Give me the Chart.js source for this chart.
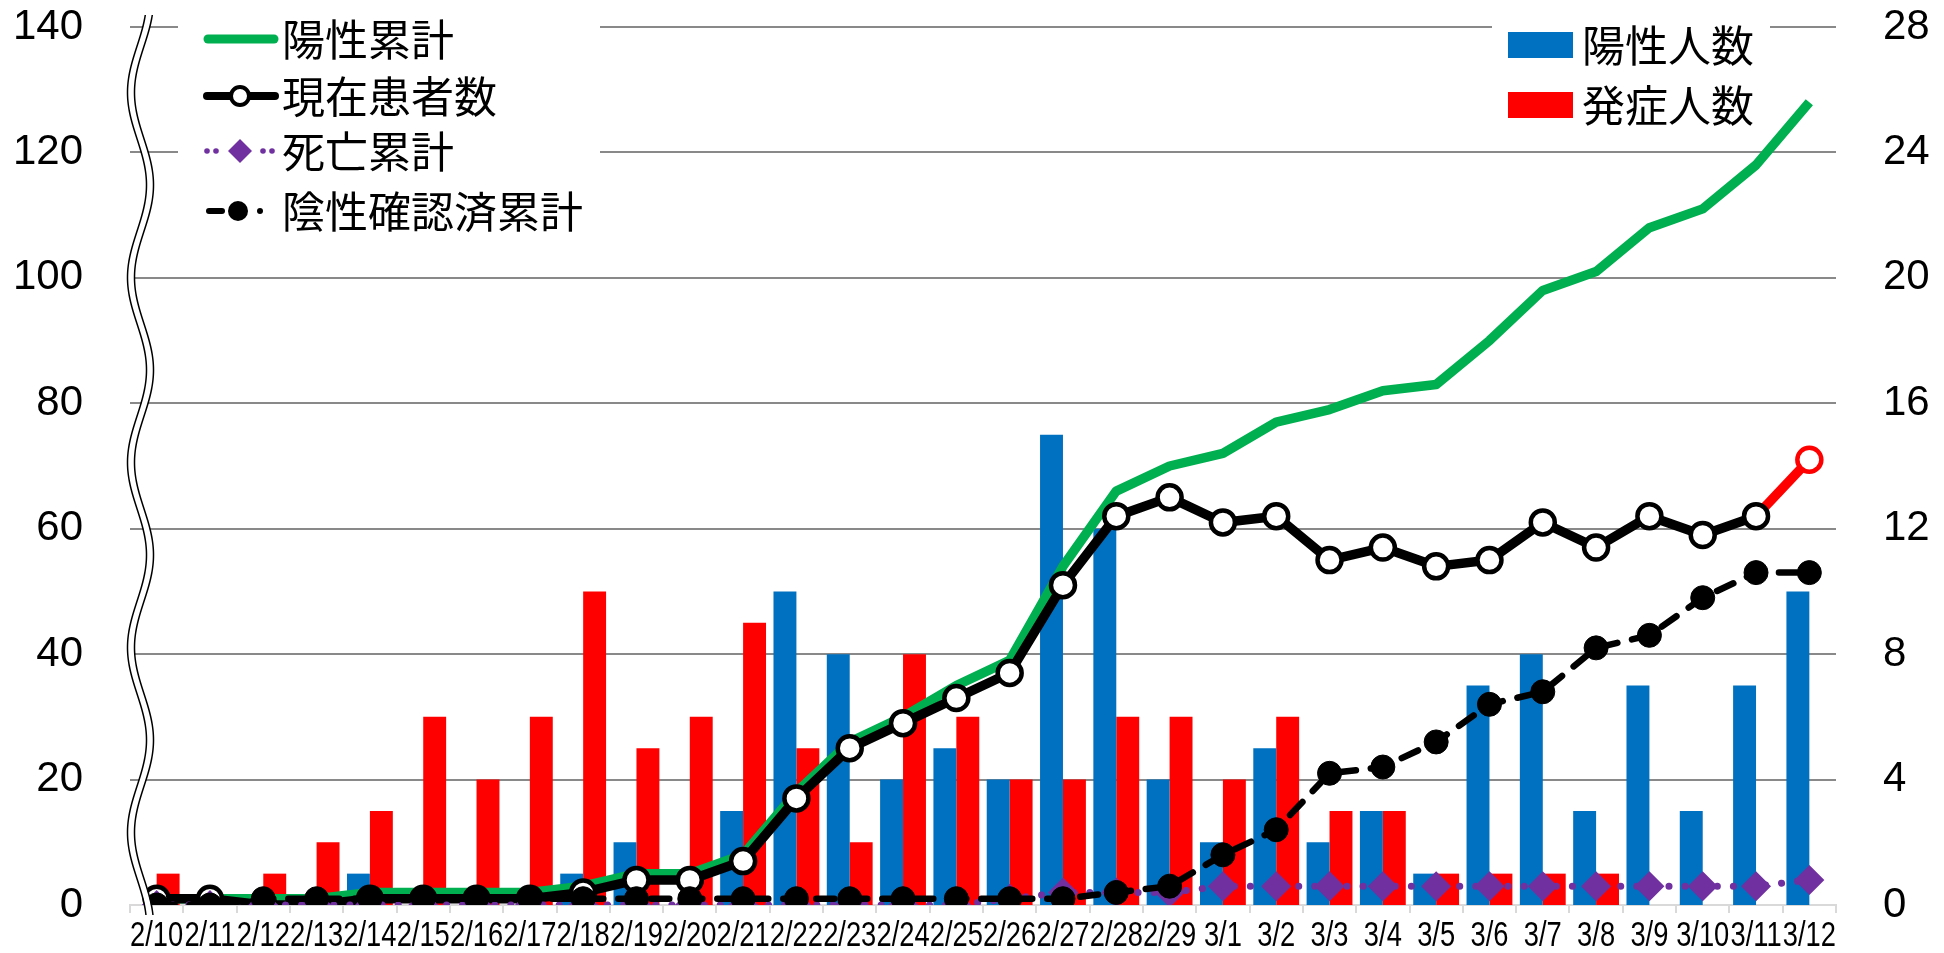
<!DOCTYPE html>
<html><head><meta charset="utf-8">
<script src="https://cdn.jsdelivr.net/npm/chart.js@4.4.0/dist/chart.umd.min.js"></script>
<style>html,body{margin:0;padding:0;background:#fff;overflow:hidden}#wrap{width:1944px;height:953px;position:relative}</style>
</head><body><div id="wrap"><canvas id="c" width="1944" height="953"></canvas></div>
<script>
// ---- data ----
const labels = ['2/10','2/11','2/12','2/13','2/14','2/15','2/16','2/17','2/18','2/19','2/20','2/21','2/22','2/23','2/24','2/25','2/26','2/27','2/28','2/29','3/1','3/2','3/3','3/4','3/5','3/6','3/7','3/8','3/9','3/10','3/11','3/12'];
// bars (right axis)
const positiveDaily = [0,0,0,0,1,0,0,0,1,2,0,3,10,8,4,5,4,15,12,4, 2,5,2,3,1,7,8,3,7,3,7,10];
const onsetDaily    = [1,0,1,2,3,6,4,6,10,5,6,9,5,2,8,6,4,4,6,6, 4,6,3,3,1,1,1,1,0,0,0,0];
// lines (left axis)
const positiveCumulative = [1,1,1,1,2,2,2,2,3,5,5,8,18,26,30,35,39,54,66,70, 72,77,79,82,83,90,98,101,108,111,118,128];
const currentPatients    = [1,1,0,0,1,1,1,1,2,4,4,7,17,25,29,33,37,51,62,65, 61,62,55,57,54,55,61,57,62,59,62,71];
const deathsCumulative   = [0,0,0,0,0,0,0,0,0,0,0,0,0,0,0,0,1,2,2,2, 3,3,3,3,3,3,3,3,3,3,3,4];
const negativeCumulative = [0,0,1,1,1,1,1,1,1,1,1,1,1,1,1,1,1,1,2,3, 8,12,21,22,26,32,34,41,43,49,53,53];
const leftTicks = {min:0, max:140, step:20};
const rightTicks = {min:0, max:28, step:4};

const lastIdx = currentPatients.length - 1;
const numFont = {family:"'Liberation Sans', Arial, sans-serif", size:42};
const xLabelFont = "35px 'Liberation Sans', Arial, sans-serif";
const jpFont = "43px 'Noto Sans CJK JP', sans-serif";

function drawDiamond(ctx,x,y,r,color){ctx.beginPath();ctx.moveTo(x,y-r);ctx.lineTo(x+r,y);ctx.lineTo(x,y+r);ctx.lineTo(x-r,y);ctx.closePath();ctx.fillStyle=color;ctx.fill();}
function drawCircle(ctx,x,y,r,fill,stroke,lw){ctx.beginPath();ctx.arc(x,y,r,0,Math.PI*2);ctx.fillStyle=fill;ctx.fill();if(lw){ctx.lineWidth=lw;ctx.strokeStyle=stroke;ctx.stroke();}}

const overlay = {
  id:'overlay',
  afterDraw(chart){
    const ctx = chart.ctx;
    ctx.save();
    // x-axis category labels (condensed, as in the original)
    const xs = chart.scales.x;
    ctx.font = xLabelFont; ctx.fillStyle='#000'; ctx.textAlign='center'; ctx.textBaseline='alphabetic';
    xs.ticks.forEach((t,i)=>{
      const x = xs.getPixelForTick(i);
      ctx.save(); ctx.translate(x, 946); ctx.scale(0.78,1);
      ctx.fillText(xs.getLabelForValue(t.value),0,0);
      ctx.restore();
    });

    // break mark (double wavy line) near left axis
    const pts=[];
    for(let y=15;y<=915;y+=2){pts.push([140.5+9.5*Math.cos(2*Math.PI*(y-740)/185),y]);}
    const path=(dx)=>{ctx.beginPath();pts.forEach((p,i)=>{i?ctx.lineTo(p[0]+dx,p[1]):ctx.moveTo(p[0]+dx,p[1]);});};
    ctx.lineCap='butt';
    path(0);ctx.strokeStyle='#fff';ctx.lineWidth=6;ctx.stroke();
    ctx.strokeStyle='#000';ctx.lineWidth=1.5;
    path(-3.5);ctx.stroke();path(3.5);ctx.stroke();

    const ds = chart.data.datasets;
    // legend 1 (lines)
    ctx.fillStyle='#fff';ctx.fillRect(178,2,422,243);
    const rows=[39,96,151,211];
    ctx.font=jpFont;ctx.textBaseline='middle';ctx.textAlign='left';
    ctx.lineCap='round';
    // 陽性累計
    ctx.beginPath();ctx.moveTo(208,rows[0]);ctx.lineTo(274,rows[0]);ctx.strokeStyle=ds[0].borderColor;ctx.lineWidth=9;ctx.stroke();
    // 現在患者数
    ctx.beginPath();ctx.moveTo(207,rows[1]);ctx.lineTo(275,rows[1]);ctx.strokeStyle='#000';ctx.lineWidth=8;ctx.stroke();
    drawCircle(ctx,240,rows[1],9,'#fff','#000',4);
    // 死亡累計
    ctx.fillStyle=ds[2].borderColor;
    [207,216,263,272].forEach(x=>{ctx.beginPath();ctx.arc(x,rows[2],2.8,0,Math.PI*2);ctx.fill();});
    drawDiamond(ctx,240,rows[2],12,ds[2].borderColor);
    // 陰性確認済累計
    ctx.beginPath();ctx.moveTo(209,rows[3]);ctx.lineTo(222,rows[3]);ctx.strokeStyle='#000';ctx.lineWidth=6;ctx.stroke();
    drawCircle(ctx,238,rows[3],10,'#000');
    ctx.beginPath();ctx.arc(260,rows[3],3,0,Math.PI*2);ctx.fillStyle='#000';ctx.fill();
    ctx.fillStyle='#000';
    [0,1,2,3].forEach(i=>ctx.fillText(ds[i].label,282,rows[i]+1));

    // legend 2 (bars)
    ctx.fillStyle='#fff';ctx.fillRect(1492,8,278,129);
    const rows2=[45,105];
    [4,5].forEach((di,k)=>{
      ctx.fillStyle=ds[di].backgroundColor;ctx.fillRect(1508,rows2[k]-13,65,26);
      ctx.fillStyle='#000';ctx.fillText(ds[di].label,1582,rows2[k]+1);
    });
    ctx.restore();
  }
};

new Chart(document.getElementById('c'),{
  data:{
    labels,
    datasets:[
      {type:'line',label:'陽性累計',data:positiveCumulative,yAxisID:'y',borderColor:'#00B050',borderWidth:9.5,pointRadius:0,borderJoinStyle:'round',order:5},
      {type:'line',label:'現在患者数',data:currentPatients,yAxisID:'y',borderColor:'#000',borderWidth:9.5,borderJoinStyle:'round',
        pointRadius:12,pointBorderWidth:4.5,pointBackgroundColor:'#fff',
        pointBorderColor:currentPatients.map((v,i)=>i===lastIdx?'#FF0000':'#000'),
        segment:{borderColor:c=>c.p1DataIndex===lastIdx?'#FF0000':undefined},order:4},
      {type:'line',label:'死亡累計',data:deathsCumulative,yAxisID:'y',borderColor:'#7030A0',borderWidth:7,borderDash:[0.1,16],borderCapStyle:'round',
        pointStyle:'rectRot',pointRadius:15,pointBackgroundColor:'#7030A0',pointBorderColor:'#7030A0',pointBorderWidth:0,order:3},
      {type:'line',label:'陰性確認済累計',data:negativeCumulative,yAxisID:'y',borderColor:'#000',borderWidth:6.5,borderDash:[18,15],borderCapStyle:'round',
        pointRadius:12,pointBackgroundColor:'#000',pointBorderColor:'#000',pointBorderWidth:1,order:2},
      {type:'bar',label:'陽性人数',data:positiveDaily,yAxisID:'y1',backgroundColor:'#0070C0',categoryPercentage:0.86,barPercentage:1,order:10},
      {type:'bar',label:'発症人数',data:onsetDaily,yAxisID:'y1',backgroundColor:'#FF0000',categoryPercentage:0.86,barPercentage:1,order:10}
    ]
  },
  options:{
    responsive:false,animation:false,devicePixelRatio:1,
    layout:{padding:{top:27,left:0,right:0,bottom:0}},
    plugins:{legend:{display:false},tooltip:{enabled:false}},
    scales:{
      x:{offset:true,
        grid:{offset:true,drawOnChartArea:false,drawTicks:true,tickLength:8,color:'#D9D9D9',lineWidth:2},
        border:{display:true,color:'#D9D9D9',width:2},
        ticks:{display:false,autoSkip:false,maxRotation:0,minRotation:0},
        afterFit:s=>{s.height=48;s.paddingLeft=0;s.paddingRight=0;}},
      y:{position:'left',min:leftTicks.min,max:leftTicks.max,
        ticks:{stepSize:leftTicks.step,font:numFont,color:'#000',padding:47},
        grid:{color:c=>c.tick && c.tick.value===0?'rgba(0,0,0,0)':'#898989',lineWidth:2,drawTicks:false},
        border:{display:false},
        afterFit:s=>{s.width=130;s.paddingTop=0;s.paddingBottom=0;}},
      y1:{position:'right',min:rightTicks.min,max:rightTicks.max,
        ticks:{stepSize:rightTicks.step,font:numFont,color:'#000',padding:47},
        grid:{display:false,drawTicks:false},border:{display:false},
        afterFit:s=>{s.width=108;s.paddingTop=0;s.paddingBottom=0;}}
    }
  },
  plugins:[overlay]
});
</script></body></html>
